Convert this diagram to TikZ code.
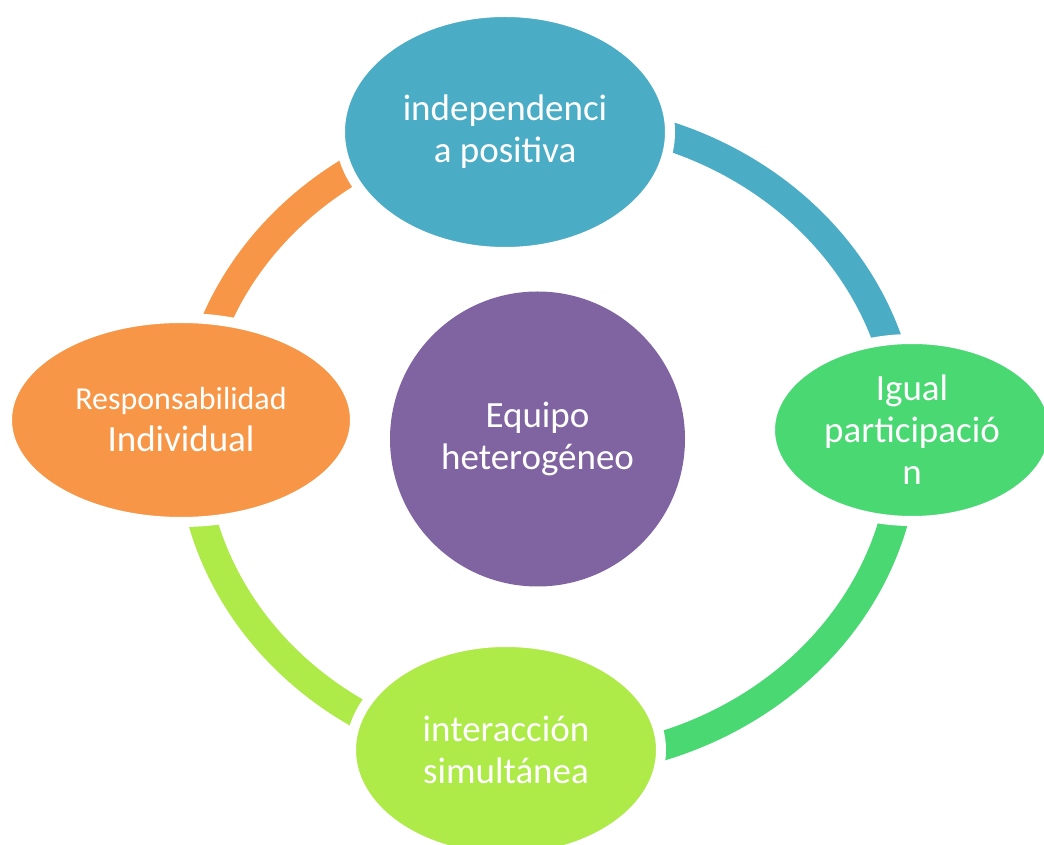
\documentclass[tikz,border=0pt]{standalone}
\usepackage{fontspec}
\setmainfont{Carlito}
\usetikzlibrary{shapes.geometric}
\definecolor{cTeal}{HTML}{4BACC6}
\definecolor{cGreen}{HTML}{4AD873}
\definecolor{cLime}{HTML}{AEEA48}
\definecolor{cOrange}{HTML}{F79646}
\definecolor{cPurple}{HTML}{8064A2}
\tikzset{
  ringarc/.style={line width=29pt, line cap=butt},
  cyclenode/.style={ellipse, draw=white, line width=10pt, inner sep=0pt,
    text=white, align=center, font=\fontsize{37}{42}\selectfont},
  hubnode/.style={circle, inner sep=0pt, text=white, align=center,
    font=\fontsize{37}{42}\selectfont}
}
\begin{document}
\begin{tikzpicture}[x=1pt,y=1pt]
\useasboundingbox (0,0) rectangle (1044,844);
\fill[white] (0,0) rectangle (1044,844);
\coordinate (ringc) at (548,404);
% ring arcs
\draw[ringarc, cTeal]   ([shift={(12:357 and 323)}]ringc) arc[start angle=12, end angle=76, x radius=357, y radius=323];
\draw[ringarc, cGreen]  ([shift={(-76:357 and 323)}]ringc) arc[start angle=-76, end angle=-10, x radius=357, y radius=323];
\draw[ringarc, cLime]   ([shift={(190:357 and 323)}]ringc) arc[start angle=190, end angle=242, x radius=357, y radius=323];
\draw[ringarc, cOrange] ([shift={(120:357 and 323)}]ringc) arc[start angle=120, end angle=162, x radius=357, y radius=323];
% nodes
\node[cyclenode, fill=cTeal, minimum width=330pt, minimum height=240pt] (top) at (505,712) {independenci\\a positiva};
\node[cyclenode, fill=cGreen, minimum width=284pt, minimum height=182pt] (right) at (912,414) {Igual\\participació\\n};
\node[cyclenode, fill=cLime, minimum width=310pt, minimum height=216pt] (bottom) at (506,94) {interacción\\simultánea};
\node[cyclenode, fill=cOrange, minimum width=348pt, minimum height=204pt] (left) at (181,424) {{\fontsize{32}{36}\selectfont Responsabilidad}\\Individual};
\node[hubnode, fill=cPurple, minimum size=295pt] (hub) at (537.5,405) {Equipo\\heterogéneo};
\end{tikzpicture}
\end{document}
